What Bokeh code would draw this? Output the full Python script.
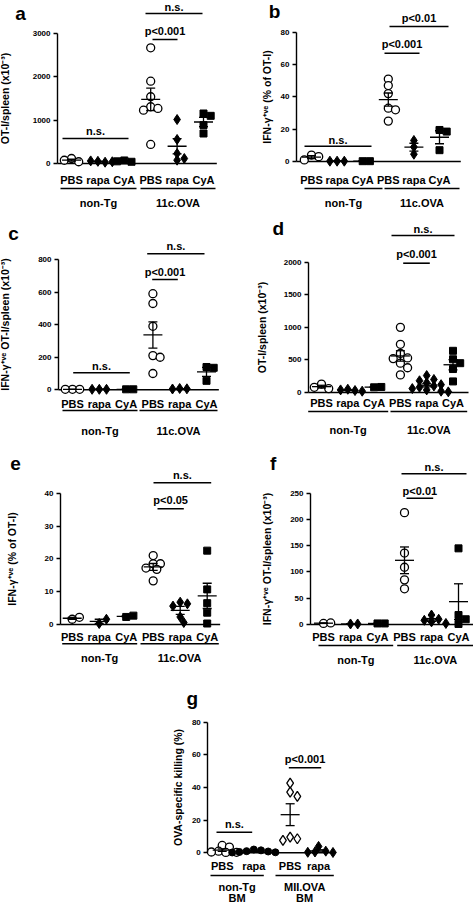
import numpy as np
from bokeh.plotting import figure
from bokeh.models import FixedTicker, Range1d, Spacer
from bokeh.layouts import row, column
from bokeh.core.properties import value
from bokeh.embed import file_html
from bokeh.resources import INLINE

FONT = "Liberation Sans"

# ---------------- data ----------------
treat3 = ["PBS", "rapa", "CyA"]
hosts_11c = ["non-Tg", "11c.OVA"]
treat2 = ["PBS", "rapa"]
hosts_g = [["non-Tg", "BM"], ["MII.OVA", "BM"]]

a_title = "OT-I/spleen (x10⁻³)"
a_ticks = [0, 1000, 2000, 3000]
a_nonTg_PBS = [115, 40, 75]
a_nonTg_rapa = [50, 30, 60, 40]
a_nonTg_CyA = [70, 40, 50]
a_11c_PBS = [2670, 1900, 1540, 1310, 1270, 1230, 440]
a_11c_rapa = [1015, 554, 230, 115, 77]
a_11c_CyA = [1154, 1100, 885, 692]

b_title = "IFN-γ⁺ᵛᵉ (% of OT-I)"
b_ticks = [0, 20, 40, 60, 80]
b_nonTg_PBS = [4.0, 3.0, 1.0]
b_nonTg_rapa = [0.2, 0.2, 0.2]
b_nonTg_CyA = [0.2, 0.2]
b_11c_PBS = [51, 47, 42, 33, 32, 25]
b_11c_rapa = [13, 9, 4.5]
b_11c_CyA = [19.5, 18.5, 7]

c_title = "IFN-γ⁺ᵛᵉ OT-I/spleen (x10⁻³)"
c_ticks = [0, 200, 400, 600, 800]
c_nonTg_PBS = [3, 3, 3]
c_nonTg_rapa = [3, 3, 3]
c_nonTg_CyA = [3, 3]
c_11c_PBS = [590, 530, 390, 210, 200, 100]
c_11c_rapa = [8, 6, 5]
c_11c_CyA = [140, 135, 55]

d_title = "OT-I/spleen (x10⁻³)"
d_ticks = [0, 500, 1000, 1500, 2000]
d_nonTg_PBS = [130, 60, 80]
d_nonTg_rapa = [50, 30, 40, 20]
d_nonTg_CyA = [80, 85]
d_11c_PBS = [1000, 740, 600, 530, 520, 450, 380, 270]
d_11c_rapa = [260, 200, 180, 150, 120, 100, 80, 60, 40, 20, 10]
d_11c_CyA = [640, 510, 450, 360, 170]

e_title = "IFN-γ⁺ᵛᵉ (% of OT-I)"
e_ticks = [0, 10, 20, 30, 40]
e_nonTg_PBS = [1.6, 2.2]
e_nonTg_rapa = [0.3, 1.6]
e_nonTg_CyA = [2.3, 2.7]
e_11c_PBS = [21, 18.5, 18.5, 17.2, 16.8, 13.3]
e_11c_rapa = [6.8, 6.3, 5.6, 2.3, 0.6]
e_11c_CyA = [22.5, 10.7, 6.5, 3.6, 0.3]

f_title = "IFN-γ⁺ᵛᵉ OT-I/spleen (x10⁻³)"
f_ticks = [0, 50, 100, 150, 200, 250]
f_nonTg_PBS = [2, 3]
f_nonTg_rapa = [1, 1]
f_nonTg_CyA = [2, 2]
f_11c_PBS = [213, 136, 109, 85, 68]
f_11c_rapa = [18, 10, 8, 5, 2]
f_11c_CyA = [145, 18, 10, 1]

g_title = "OVA-specific killing (%)"
g_ticks = [0, 20, 40, 60, 80]
g_nonTg_PBS = [4.5, 3.5, 1.0, 0.5, 0.3, 0.2]
g_nonTg_rapa = [2.0, 1.5, 1.0, 0.8, 0.5, 0.3, 0.2]
g_MII_PBS = [42.7, 37.1, 34.5, 9.6, 8.6, 7.6]
g_MII_rapa = [3.9, 1.0, 0.5, 0.3, 0.2]

# ---------------- styles ----------------
MARK = {
    "o": dict(marker="circle", size=8, fill_color="white", line_color="black", line_width=1.3),
    "D": dict(marker="diamond", size=10, fill_color="black", line_color="black", line_width=1),
    "s": dict(marker="square", size=7, fill_color="black", line_color="black", line_width=1),
    "od": dict(marker="diamond", size=10, fill_color="white", line_color="black", line_width=1.3),
    "fc": dict(marker="circle", size=7, fill_color="black", line_color="black", line_width=1),
}

# layout: reference-pixel geometry of each panel
panels = [
    dict(letter="a", title=a_title, ticks=a_ticks, cats=treat3 * 2, hosts=[[h] for h in hosts_11c],
         groups=[a_nonTg_PBS, a_nonTg_rapa, a_nonTg_CyA, a_11c_PBS, a_11c_rapa, a_11c_CyA],
         marks=["o", "D", "s", "o", "D", "s"], pos=[1, 2, 3, 4, 5, 6],
         rowi=0, col=0, axis=57, first=71, s=26.4, base=163, top=33,
         cat_y=179, gline_y=188, glabel_y=[202], glines=[(60, 136), (140, 215)],
         brackets=[(62, 128, 138, 130, "n.s."), (152, 177, 39, 30, "p<0.001"), (145, 202, 13, 3, "n.s.")],
         letter_xy=(20, 13), title_x=7),
    dict(letter="b", title=b_title, ticks=b_ticks, cats=treat3 * 2, hosts=[[h] for h in hosts_11c],
         groups=[b_nonTg_PBS, b_nonTg_rapa, b_nonTg_CyA, b_11c_PBS, b_11c_rapa, b_11c_CyA],
         marks=["o", "D", "s", "o", "D", "s"], pos=[1, 2, 3, 4, 5, 6],
         rowi=0, col=1, axis=296, first=311, s=25.6, base=161, top=31.7,
         cat_y=179, gline_y=188, glabel_y=[202], glines=[(304, 382), (384, 459)],
         brackets=[(304, 371, 145.7, 139, "n.s."), (384, 419, 52.7, 43, "p<0.001"), (389, 448, 26, 17, "p<0.01")],
         letter_xy=(274, 11), title_x=269),
    dict(letter="c", title=c_title, ticks=c_ticks, cats=treat3 * 2, hosts=[[h] for h in hosts_11c],
         groups=[c_nonTg_PBS, c_nonTg_rapa, c_nonTg_CyA, c_11c_PBS, c_11c_rapa, c_11c_CyA],
         marks=["o", "D", "s", "o", "D", "s"], pos=[1, 2, 3, 4, 5, 6],
         rowi=1, col=0, axis=58, first=72, s=26.8, base=389.3, top=259,
         cat_y=403.3, gline_y=410, glabel_y=[430], glines=[(62, 137), (139, 217)],
         brackets=[(72.7, 129.3, 372.3, 365, "n.s."), (151.7, 177.3, 279, 271.7, "p<0.001"), (146.7, 204, 253.3, 245, "n.s.")],
         letter_xy=(13, 233), title_x=7),
    dict(letter="d", title=d_title, ticks=d_ticks, cats=treat3 * 2, hosts=[[h] for h in hosts_11c],
         groups=[d_nonTg_PBS, d_nonTg_rapa, d_nonTg_CyA, d_11c_PBS, d_11c_rapa, d_11c_CyA],
         marks=["o", "D", "s", "o", "D", "s"], pos=[1, 2, 3, 4, 5, 6],
         rowi=1, col=1, axis=308, first=321, s=26.3, base=392, top=261.7,
         cat_y=402, gline_y=411, glabel_y=[429], glines=[(307.7, 387.7), (390, 466.7)],
         brackets=[(402.7, 429.3, 262.7, 253, "p<0.001"), (391, 454, 235, 228, "n.s.")],
         letter_xy=(277.7, 228), title_x=264),
    dict(letter="e", title=e_title, ticks=e_ticks, cats=treat3 * 2, hosts=[[h] for h in hosts_11c],
         groups=[e_nonTg_PBS, e_nonTg_rapa, e_nonTg_CyA, e_11c_PBS, e_11c_rapa, e_11c_CyA],
         marks=["o", "D", "s", "o", "D", "s"], pos=[1, 2, 3, 4, 5, 6],
         rowi=2, col=0, axis=60, first=71.7, s=27, base=624, top=492.7,
         cat_y=636, gline_y=643.3, glabel_y=[657], glines=[(61.7, 136.7), (140, 218.3)],
         brackets=[(153, 210.7, 482.3, 474, "n.s."), (157, 183.3, 508.3, 499, "p<0.05")],
         letter_xy=(15, 463), title_x=14),
    dict(letter="f", title=f_title, ticks=f_ticks, cats=treat3 * 2, hosts=[[h] for h in hosts_11c],
         groups=[f_nonTg_PBS, f_nonTg_rapa, f_nonTg_CyA, f_11c_PBS, f_11c_rapa, f_11c_CyA],
         marks=["o", "D", "s", "o", "D", "s"], pos=[1, 2, 3, 4, 5, 6],
         rowi=2, col=1, axis=310, first=323, s=27, base=624, top=492.7,
         cat_y=636.7, gline_y=645, glabel_y=[659], glines=[(318, 392.7), (396.7, 473)],
         brackets=[(401, 466, 473.3, 466.7, "n.s."), (406, 432.7, 497.7, 490, "p<0.01")],
         letter_xy=(272.7, 463), title_x=269),
    dict(letter="g", title=g_title, ticks=g_ticks, cats=treat2 * 2, hosts=hosts_g,
         groups=[g_nonTg_PBS, g_nonTg_rapa, g_MII_PBS, g_MII_rapa],
         marks=["o", "fc", "od", "D"], pos=[1, 2, 3.15, 4.05],
         rowi=3, col=2, axis=207.3, first=221.7, s=31.6, base=852.3, top=721.7,
         cat_y=865, gline_y=875, glabel_y=[886.7, 899], glines=[(210, 263.3), (275, 333.3)],
         brackets=[(216, 251.7, 831.7, 823.3, "n.s."), (288.3, 320.7, 767.3, 758.3, "p<0.001")],
         letter_xy=(191.7, 698), title_x=180),
]

# rows: (ref top, page top, height) ; cols: (ref left, page left, width)
ROWS = [(0, 0, 212), (212, 212, 230), (442, 442, 236), (678, 678, 225)]
COLS = [(0, 0, 236), (236, 236, 237), (150, 150, 200)]


def swarm(vals, k, dpx):
    placed = []
    offs = []
    for v in vals:
        y = v * k
        cand = [0]
        for i in range(1, 10):
            cand += [i * dpx * 0.45, -i * dpx * 0.45]
        chosen = cand[-1]
        for o in cand:
            if all((o - px) ** 2 + (y - py) ** 2 >= (0.8 * dpx) ** 2 for px, py in placed):
                chosen = o
                break
        placed.append((chosen, y))
        offs.append(chosen)
    return offs


def build(P):
    ref_top, pg_top, fh = ROWS[P["rowi"]]
    ref_left, pg_left, fw = COLS[P["col"]]
    dx = pg_left - ref_left
    dy = pg_top - ref_top
    k = (P["base"] - P["top"]) / P["ticks"][-1]   # px per unit
    s = P["s"]
    base_pg = P["base"] + dy
    y_start = -(pg_top + fh - base_pg) / k
    y_end = (base_pg - pg_top) / k
    first_pg = P["first"] + dx
    x_start = 1 - (first_pg - pg_left) / s
    x_end = x_start + fw / s

    def xv(xr):
        return 1 + (xr - P["first"]) / s

    def yv(yr, pad=6):
        fy = yr + dy - pg_top
        fy = min(max(fy, pad), fh - pad)
        return (base_pg - pg_top - fy) / k

    p = figure(width=fw, height=fh, x_range=Range1d(x_start, x_end), y_range=Range1d(y_start, y_end),
               output_backend="svg", toolbar_location=None, x_axis_location=None,
               min_border_left=0, min_border_right=0, min_border_top=0, min_border_bottom=0)
    p.outline_line_color = None
    p.grid.visible = False
    p.background_fill_color = "white"
    p.border_fill_color = "white"

    ax = p.yaxis[0]
    ax.fixed_location = xv(P["axis"])
    ax.ticker = FixedTicker(ticks=P["ticks"])
    ax.bounds = (0, P["ticks"][-1])
    ax.axis_line_color = "black"
    ax.major_tick_line_color = "black"
    ax.axis_line_width = 1.4
    ax.major_tick_line_width = 1.4
    ax.major_tick_out = 4
    ax.major_tick_in = 0
    ax.minor_tick_out = 0
    ax.minor_tick_in = 0
    ax.major_label_text_font = FONT
    ax.major_label_text_font_style = "bold"
    ax.major_label_text_font_size = "8px"
    ax.major_label_text_color = "black"
    ax.major_label_standoff = 3
    ax.axis_label = P["title"]
    ax.axis_label_text_font = FONT
    ax.axis_label_text_font_style = "bold"
    ax.axis_label_text_font_size = "10.5px"
    ax.axis_label_text_color = "black"
    W = max(len(str(t)) for t in P["ticks"]) * 0.556 * 8
    axis_fx = P["axis"] + dx - pg_left
    c = max(P["title_x"] + dx - pg_left, 7)
    ax.axis_label_standoff = int(max(axis_fx - 7 - W - c - 6, 2))

    lw = 1.4
    # baseline
    p.segment(x0=[xv(P["axis"])], y0=[0], x1=[xv(P["glines"][-1][1]) + 0.05], y1=[0],
              line_color="black", line_width=lw)

    # points
    dpx = 8
    for vals, mk, pos in zip(P["groups"], P["marks"], P["pos"]):
        offs = swarm(vals, k, dpx)
        xs = [pos + o / s for o in offs]
        p.scatter(x=xs, y=vals, **MARK[mk])
    # mean and SEM
    for vals, pos in zip(P["groups"], P["pos"]):
        arr = np.asarray(vals, dtype=float)
        m = arr.mean()
        sem = arr.std(ddof=1) / np.sqrt(len(arr)) if len(arr) > 1 else 0.0
        hw = 9.5 / s
        cw = 4.5 / s
        p.segment(x0=[pos - hw, pos, pos - cw, pos - cw], y0=[m, m - sem, m + sem, m - sem],
                  x1=[pos + hw, pos, pos + cw, pos + cw], y1=[m, m + sem, m + sem, m - sem],
                  line_color="black", line_width=1.3)

    tf = value(FONT)
    # category labels
    p.text(x=P["pos"], y=[yv(P["cat_y"])] * len(P["pos"]), text=P["cats"], text_font=tf,
           text_font_style="bold", text_font_size="11px", text_align="center",
           text_baseline="middle", text_color="black")
    # group lines and labels
    gx0 = [xv(a) for a, b in P["glines"]]
    gx1 = [xv(b) for a, b in P["glines"]]
    p.segment(x0=gx0, y0=[yv(P["gline_y"])] * 2, x1=gx1, y1=[yv(P["gline_y"])] * 2,
              line_color="black", line_width=lw)
    for li, ly in enumerate(P["glabel_y"]):
        p.text(x=[(a + b) / 2 for a, b in zip(gx0, gx1)], y=[yv(ly)] * 2,
               text=[h[li] for h in P["hosts"]], text_font=tf, text_font_style="bold",
               text_font_size="11px", text_align="center", text_baseline="middle", text_color="black")
    # significance brackets
    for x0r, x1r, lyr, tyr, txt in P["brackets"]:
        p.segment(x0=[xv(x0r)], y0=[yv(lyr, 0)], x1=[xv(x1r)], y1=[yv(lyr, 0)],
                  line_color="black", line_width=1.6)
        p.text(x=[(xv(x0r) + xv(x1r)) / 2], y=[yv(tyr)], text=[txt], text_font=tf,
               text_font_style="bold", text_font_size="11px", text_align="center",
               text_baseline="middle", text_color="black")
    # panel letter
    lx, ly = P["letter_xy"]
    p.text(x=[xv(lx)], y=[yv(ly, 9)], text=[P["letter"]], text_font=tf, text_font_style="bold",
           text_font_size="19px", text_align="center", text_baseline="middle", text_color="black")
    return p


figs = {P["letter"]: build(P) for P in panels}

layout = column(
    row(figs["a"], figs["b"]),
    row(figs["c"], figs["d"]),
    row(figs["e"], figs["f"]),
    row(Spacer(width=COLS[2][1], height=ROWS[3][2]), figs["g"]),
)

open("out.html", "w").write(file_html(layout, INLINE))
